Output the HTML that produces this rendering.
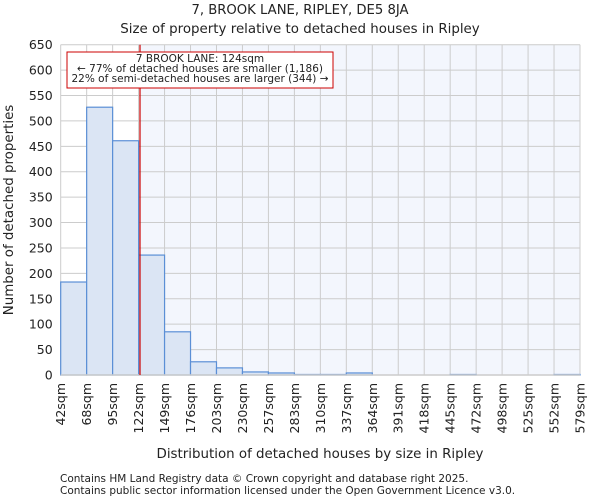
<!DOCTYPE html>
<html><head><meta charset="utf-8"><style>
body{margin:0;background:#fff;font-family:"DejaVu Sans","Liberation Sans",sans-serif;}
svg text{font-family:"DejaVu Sans","Liberation Sans",sans-serif;fill:#222;}
</style></head><body>
<svg id="chart" width="600" height="500" xmlns="http://www.w3.org/2000/svg">
<text x="300" y="14" text-anchor="middle" font-size="13.2">7, BROOK LANE, RIPLEY, DE5 8JA</text>
<text x="300" y="33" text-anchor="middle" font-size="13.4">Size of property relative to detached houses in Ripley</text>
<g id="plot"></g>
<text x="320" y="458" text-anchor="middle" font-size="13.4">Distribution of detached houses by size in Ripley</text>
<text transform="translate(13,210) rotate(-90)" text-anchor="middle" font-size="13.4">Number of detached properties</text>
<text x="60" y="482" font-size="10.5">Contains HM Land Registry data © Crown copyright and database right 2025.</text>
<text x="60" y="494" font-size="10.5">Contains public sector information licensed under the Open Government Licence v3.0.</text>
</svg>
<script>
const binLabels=["42sqm","68sqm","95sqm","122sqm","149sqm","176sqm","203sqm","230sqm","257sqm","283sqm","310sqm","337sqm","364sqm","391sqm","418sqm","445sqm","472sqm","498sqm","525sqm","552sqm","579sqm"];
const binStarts=[42,68.85,95.7,122.55,149.4,176.25,203.1,229.95,256.8,283.65,310.5,337.35,364.2,391.05,417.9,444.75,471.6,498.45,525.3,552.15,579];
const counts=[183,527,461,236,85,26,14,6,4,1,1,4,0,0,0,1,0,0,0,1];
const yTicks=[0,50,100,150,200,250,300,350,400,450,500,550,600,650];
const subjectSize=124;
const L=60.7,R=580,T=44.7,B=375;
const xMin=binStarts[0],xMax=binStarts[binStarts.length-1];
const xs=v=>L+(v-xMin)/(xMax-xMin)*(R-L);
const ys=v=>B-v/650*(B-T);
const NS="http://www.w3.org/2000/svg";
const g=document.getElementById('plot');
function mk(t,a){const e=document.createElementNS(NS,t);for(const k in a)e.setAttribute(k,a[k]);g.appendChild(e);return e;}
const sx=xs(subjectSize);
let e=mk('rect',{x:L,y:T,width:R-L,height:B-T,fill:'#fff'});


e=mk('rect',{x:sx,y:T,width:R-sx,height:B-T,fill:'#f3f6fd'});


yTicks.forEach(v=>{
 e=mk('line',{x1:L,x2:R,y1:ys(v),y2:ys(v),stroke:'#cccccc','stroke-width':1});
 
 
 e=mk('text',{x:L-8,y:ys(v)+4.5,'text-anchor':'end','font-size':12.5});
 e.textContent=v;
 
 
});
binStarts.forEach((b,i)=>{
 e=mk('line',{x1:xs(b),x2:xs(b),y1:T,y2:B,stroke:'#cccccc','stroke-width':1});
 
 
 const tx=xs(b);
 e=mk('text',{transform:`translate(${tx+4.5},${B+8}) rotate(-90)`,'text-anchor':'end','font-size':12.5});
 e.textContent=binLabels[i];
 
 
});
counts.forEach((c,i)=>{
 if(c<=0)return;
 const x0=xs(binStarts[i]),x1=xs(binStarts[i+1]);
 e=mk('rect',{x:x0,y:ys(c),width:x1-x0,height:B-ys(c),fill:'#dbe5f4',stroke:'#5b8fd6','stroke-width':1.2});
 
 
});
e=mk('line',{x1:L,x2:R,y1:B,y2:B,stroke:'#cccccc','stroke-width':1.5});


e=mk('line',{x1:sx,x2:sx,y1:T,y2:B,stroke:'#cc0000','stroke-width':1.2});


e=mk('rect',{x:67,y:52,width:266,height:36,fill:'#fff',stroke:'#cc0000','stroke-width':1});


const lines=["7 BROOK LANE: 124sqm","← 77% of detached houses are smaller (1,186)","22% of semi-detached houses are larger (344) →"];
lines.forEach((t,i)=>{
 e=mk('text',{x:200,y:62+i*10,'text-anchor':'middle','font-size':10.5});
 e.textContent=t;
 
 
});
</script>
</body></html>
